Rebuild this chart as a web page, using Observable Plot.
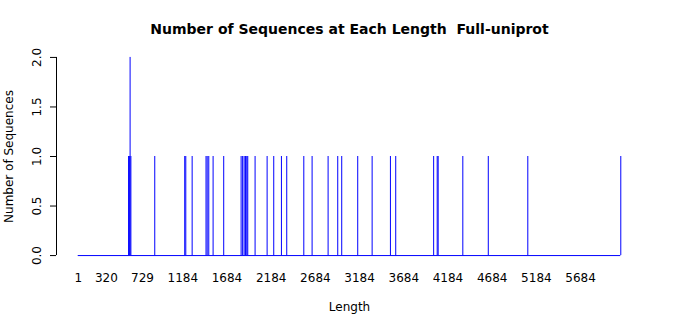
<!DOCTYPE html>
<html>
<head>
<meta charset="utf-8">
<script src="https://cdn.jsdelivr.net/npm/d3@7"></script>
<script src="https://cdn.jsdelivr.net/npm/@observablehq/plot@0.6"></script>
<style>
  html, body { margin: 0; padding: 0; background: #fff; }
  #chart svg { display: block; }
</style>
</head>
<body>
<div id="chart"></div>
<script>
const lengths = [571, 580, 588, 597, 867, 1206, 1218, 1290, 1447, 1460, 1478, 1527, 1647,
  1844, 1861, 1878, 1893, 1908, 1919, 2002, 2138, 2213, 2300, 2360, 2553, 2647, 2828,
  2937, 2982, 3163, 3326, 3533, 3593, 4022, 4062, 4073, 4352, 4640, 5087, 6139];
const counts = [1, 1, 2, 1, 1, 1, 1, 1, 1, 1, 1, 1, 1,
  1, 1, 1, 1, 1, 1, 1, 1, 1, 1, 1, 1, 1, 1,
  1, 1, 1, 1, 1, 1, 1, 1, 1, 1, 1, 1, 1];
const minLength = 1;
const maxLength = 6139;
const xTicks = [1, 320, 729, 1184, 1684, 2184, 2684, 3184, 3684, 4184, 4684, 5184, 5684];
const yTicks = [0, 0.5, 1, 1.5, 2];
const titleText = "Number of Sequences at Each Length  Full-uniprot";
const xLabel = "Length";
const yLabel = "Number of Sequences";

const data = lengths.map((len, i) => ({len, count: counts[i]}));
const span = maxLength - minLength;
const xDomain = [minLength - 0.04 * span, maxLength + 0.04 * span];
const yDomain = [0 - 0.04 * 2, 2 + 0.04 * 2];

const font = "DejaVu Sans, sans-serif";

const chart = Plot.plot({
  width: 700,
  height: 315,
  marginLeft: 56,
  marginRight: 58,
  marginTop: 49,
  marginBottom: 52,
  style: {fontFamily: font, fontSize: "12px", color: "#000", background: "#fff"},
  x: {domain: xDomain, axis: null},
  y: {domain: yDomain, axis: null},
  marks: [
    Plot.ruleY([0], {x1: minLength, x2: maxLength, stroke: "blue", strokeWidth: 1}),
    Plot.ruleX(data, {x: "len", y1: 0, y2: "count", stroke: "blue", strokeWidth: 1}),
    Plot.axisX({ticks: xTicks, tickSize: 0, tickPadding: 10, tickFormat: d => String(d), fontSize: 12, fill: "#000", label: null}),
    Plot.ruleX([xDomain[0]], {y1: 0, y2: 2, stroke: "#000", strokeWidth: 1}),
    Plot.axisY({ticks: yTicks, tickSize: 6, tickFormat: () => "", stroke: "#000", label: null}),
    Plot.text(yTicks, {x: () => xDomain[0], y: d => d, text: d => d.toFixed(1), rotate: -90, dx: -19, textAnchor: "middle", lineAnchor: "middle", fontSize: 12, fill: "#000"}),
    Plot.text([yLabel], {frameAnchor: "left", y: () => 1, dx: -47, rotate: -90, textAnchor: "middle", lineAnchor: "middle", fontSize: 12, fill: "#000"}),
    Plot.text([xLabel], {frameAnchor: "bottom", dy: 44, lineAnchor: "middle", fontSize: 12, fill: "#000"}),
    Plot.text([titleText], {frameAnchor: "top", dy: -20, lineAnchor: "middle", fontSize: 14, fontWeight: "bold", fill: "#000"})
  ]
});
document.getElementById("chart").appendChild(chart);
</script>
</body>
</html>
